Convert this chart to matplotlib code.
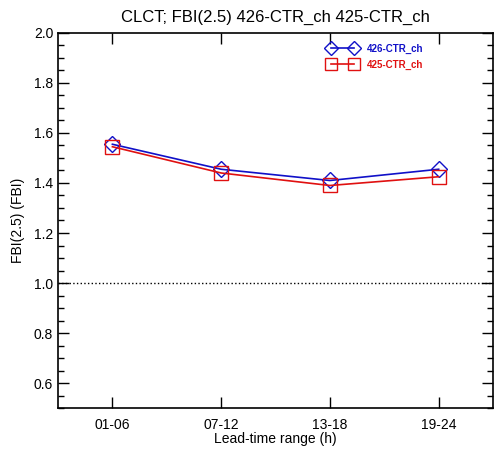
import matplotlib
matplotlib.use("Agg")
import matplotlib.pyplot as plt
from matplotlib.ticker import MultipleLocator

plt.rcParams['font.family'] = ['Liberation Sans', 'DejaVu Sans']

# lead-time ranges and FBI(2.5) scores per experiment
lead_times = ['01-06', '07-12', '13-18', '19-24']
fbi_426 = [1.555, 1.455, 1.41, 1.455]
fbi_425 = [1.545, 1.44, 1.39, 1.425]

fig = plt.figure(figsize=(4.96, 4.5), dpi=100)
ax = fig.add_axes([0.117, 0.0933, 0.877, 0.8334])

x = list(range(1, len(lead_times) + 1))
ax.plot(x, fbi_426, color='#1010c8', marker='D', markersize=8, mfc='none',
        mew=1.0, lw=1.2, label='426-CTR_ch')
ax.plot(x, fbi_425, color='#e01010', marker='s', markersize=10, mfc='none',
        mew=1.0, lw=1.2, label='425-CTR_ch')
ax.axhline(1.0, color='black', ls=':', lw=1.0)

ax.set_xlim(0.5, 4.5)
ax.set_ylim(0.5, 2.0)
ax.set_xticks(x)
ax.set_xticklabels(lead_times)
ax.yaxis.set_major_locator(MultipleLocator(0.2))
ax.yaxis.set_minor_locator(MultipleLocator(0.05))
ax.tick_params(direction='in', top=True, right=True, labelsize=10, length=8, width=1)
ax.tick_params(which='minor', direction='in', right=True, length=4, width=1)
ax.tick_params(axis='x', pad=7)
for s in ax.spines.values():
    s.set_linewidth(1.2)

ax.set_title('CLCT; FBI(2.5) 426-CTR_ch 425-CTR_ch', fontsize=12, pad=8)
ax.set_xlabel('Lead-time range (h)', fontsize=10, labelpad=0)
ax.set_ylabel('FBI(2.5) (FBI)', fontsize=10, labelpad=6)

leg = ax.legend(loc='upper left', bbox_to_anchor=(0.6, 0.995), frameon=False,
                numpoints=2, handlelength=3.0, fontsize=7, labelspacing=0.6,
                handletextpad=1.0, markerscale=0.9)
for txt, c in zip(leg.get_texts(), ['#1010c8', '#e01010']):
    txt.set_color(c)
    txt.set_fontweight('bold')

fig.savefig('out.png', dpi=100)
